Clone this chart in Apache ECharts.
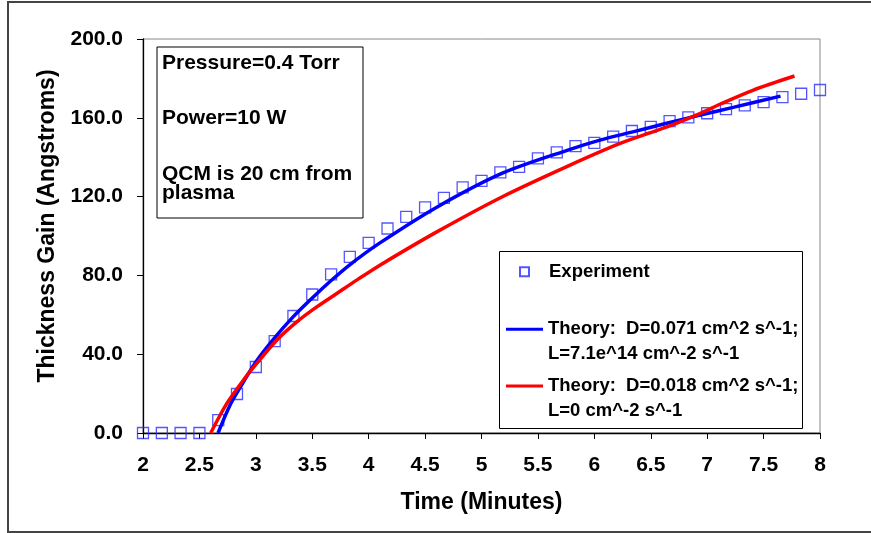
<!DOCTYPE html>
<html>
<head>
<meta charset="utf-8">
<script src="https://cdn.jsdelivr.net/npm/echarts@6/dist/echarts.min.js"></script>
<style>
html,body{margin:0;padding:0;background:#fff;}
#chart{width:871px;height:533px;}
</style>
</head>
<body>
<div id="chart"></div>
<script>
// ---- data ----
var expName = 'Experiment';
var blueName = 'Theory:  D=0.071 cm^2 s^-1; L=7.1e^14 cm^-2 s^-1';
var redName = 'Theory:  D=0.018 cm^2 s^-1; L=0 cm^-2 s^-1';

var expX = [2, 2.167, 2.333, 2.5, 2.667, 2.833, 3, 3.167, 3.333, 3.5, 3.667, 3.833, 4, 4.167, 4.333, 4.5, 4.667, 4.833, 5, 5.167, 5.333, 5.5, 5.667, 5.833, 6, 6.167, 6.333, 6.5, 6.667, 6.833, 7, 7.167, 7.333, 7.5, 7.667, 7.833, 8];
var expY = [0, 0, 0, 0, 6.5, 19.8, 33.5, 46.6, 59.4, 70.3, 80.5, 89.4, 96.5, 103.8, 109.7, 114.5, 119.4, 124.7, 128.0, 132.3, 135.1, 139.4, 142.4, 145.6, 147.3, 150.4, 153.3, 155.4, 158.3, 160.2, 162.3, 164.4, 166.3, 168.0, 170.5, 172.2, 174.1];

var blueX = [2.665, 2.77, 2.86, 3.0, 3.155, 3.32, 3.5, 3.66, 3.835, 4.1, 4.6, 5.19, 5.785, 6.05, 6.35, 6.64, 6.94, 7.23, 7.65];
var blueY = [0, 14, 23, 36, 47.5, 58.3, 68.5, 77, 85.5, 96.5, 114.5, 132, 144, 148.7, 153, 157.2, 161.4, 165.3, 171.0];

var redX = [2.6, 2.742, 2.889, 3.008, 3.185, 3.363, 3.54, 3.717, 3.894, 4.1, 4.604, 5.194, 5.785, 6.229, 6.643, 6.94, 7.117, 7.41, 7.774];
var redY = [0, 14.9, 26.8, 35.3, 47.1, 56.4, 64.0, 70.8, 77.6, 85.2, 102.1, 120.2, 136.0, 147.0, 155.4, 162.3, 167.0, 174.1, 181.2];

var xTicks = {min: 2, max: 8, step: 0.5};
var yTicks = {min: 0, max: 200, step: 40};

var noteLines = ['Pressure=0.4 Torr', 'Power=10 W', 'QCM is 20 cm from', 'plasma'];

function zip(a, b) { return a.map(function (v, i) { return [v, b[i]]; }); }

var FONT = '"Liberation Sans", Arial, Helvetica, sans-serif';
var chart = echarts.init(document.getElementById('chart'), null, {renderer: 'canvas'});

function legendFmt(name) {
  var parts = name.split('; ');
  if (parts.length > 1) return '\n' + parts[0] + ';\n' + parts[1];
  return name;
}

var legendText = {fontFamily: FONT, fontWeight: 'bold', fontSize: 18.5, color: '#000', lineHeight: 25};
var squareIcon = 'path://M0,0 M37,9 M13,0 L22,0 L22,9 L13,9 Z';
var barIcon = 'path://M0,0 M37,9 M0,3 L37,3 L37,6 L0,6 Z';

var option = {
  animation: false,
  backgroundColor: '#fff',
  grid: {left: 143, right: 51, top: 39, bottom: 100, show: true, borderColor: '#888', borderWidth: 1, backgroundColor: 'transparent'},
  xAxis: {
    type: 'value', min: xTicks.min, max: xTicks.max, interval: xTicks.step,
    name: 'Time (Minutes)', nameLocation: 'middle', nameGap: 58,
    nameTextStyle: {fontFamily: FONT, fontWeight: 'bold', fontSize: 23, color: '#000'},
    axisLine: {onZero: false, lineStyle: {color: '#000', width: 1.3}},
    axisTick: {show: true, inside: false, length: 6, lineStyle: {color: '#000', width: 1}},
    splitLine: {show: false},
    axisLabel: {fontFamily: FONT, fontWeight: 'bold', fontSize: 21, color: '#000', margin: 22}
  },
  yAxis: {
    type: 'value', min: yTicks.min, max: yTicks.max, interval: yTicks.step,
    name: 'Thickness Gain (Angstroms)', nameLocation: 'middle', nameGap: 84, nameRotate: 90,
    nameTextStyle: {fontFamily: FONT, fontWeight: 'bold', fontSize: 23, color: '#000', padding: [0, 0, 0, 20]},
    axisLine: {show: true, onZero: false, lineStyle: {color: '#000', width: 1.3}},
    axisTick: {show: true, inside: false, length: 6, lineStyle: {color: '#000', width: 1}},
    splitLine: {show: false},
    axisLabel: {fontFamily: FONT, fontWeight: 'bold', fontSize: 21, color: '#000', margin: 20,
      formatter: function (v) { return v.toFixed(1); }}
  },
  legend: [
    {data: [{name: expName, icon: squareIcon}], orient: 'vertical', left: 506, top: 259.2, padding: 0, itemWidth: 37, itemHeight: 9,
     textStyle: legendText, selectedMode: false},
    {data: [{name: blueName, icon: barIcon}], orient: 'vertical', left: 506, top: 291.8, padding: 0, itemWidth: 37, itemHeight: 9,
     textStyle: legendText, formatter: legendFmt, selectedMode: false},
    {data: [{name: redName, icon: barIcon}], orient: 'vertical', left: 506, top: 348.5, padding: 0, itemWidth: 37, itemHeight: 9,
     textStyle: legendText, formatter: legendFmt, selectedMode: false}
  ],
  graphic: [
    {type: 'rect', shape: {x: 8, y: 2, width: 900, height: 530}, style: {fill: 'none', stroke: '#444', lineWidth: 2}, silent: true, z: -10},
    {type: 'rect', shape: {x: 157, y: 47, width: 206, height: 171}, style: {fill: '#fff', stroke: '#000', lineWidth: 1}, silent: true, z: 10},
    {type: 'text', x: 162, y: 63, style: {text: noteLines[0], font: 'bold 21px ' + FONT, fill: '#000', verticalAlign: 'middle'}, z: 11},
    {type: 'text', x: 162, y: 118, style: {text: noteLines[1], font: 'bold 21px ' + FONT, fill: '#000', verticalAlign: 'middle'}, z: 11},
    {type: 'text', x: 162, y: 174, style: {text: noteLines[2], font: 'bold 21px ' + FONT, fill: '#000', verticalAlign: 'middle'}, z: 11},
    {type: 'text', x: 162, y: 193, style: {text: noteLines[3], font: 'bold 21px ' + FONT, fill: '#000', verticalAlign: 'middle'}, z: 11},
    {type: 'rect', shape: {x: 499.5, y: 251.5, width: 303, height: 177}, style: {fill: '#fff', stroke: '#000', lineWidth: 1}, silent: true, z: 1}
  ],
  series: [
    {name: expName, type: 'scatter', data: zip(expX, expY), symbol: 'rect', symbolSize: 11,
     itemStyle: {color: 'rgba(0,0,0,0)', borderColor: '#2b2bff', borderWidth: 1.3}, z: 2},
    {name: blueName, type: 'line', data: zip(blueX, blueY), showSymbol: false, symbol: 'none', smooth: 0.3,
     lineStyle: {color: '#0000ff', width: 3.5}, itemStyle: {color: '#0000ff'}, z: 3},
    {name: redName, type: 'line', data: zip(redX, redY), showSymbol: false, symbol: 'none', smooth: 0.3,
     lineStyle: {color: '#ff0000', width: 3.5}, itemStyle: {color: '#ff0000'}, z: 4}
  ]
};
chart.setOption(option);
</script>
</body>
</html>
